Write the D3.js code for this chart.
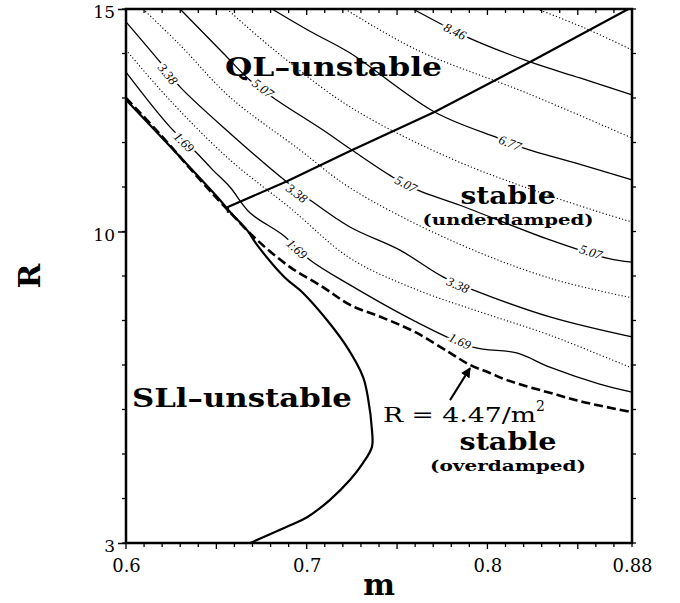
<!DOCTYPE html>
<html>
<head>
<meta charset="utf-8">
<script src="https://cdn.jsdelivr.net/npm/d3@7/dist/d3.min.js"></script>
<style>
  body { margin: 0; background: #fff; }
  svg { display: block; }
</style>
</head>
<body>
<svg id="chart" width="680" height="603"></svg>
<script>
// axis ranges and tick labels
const mDomain = [0.6, 0.88];
const rDomain = [3, 15];
const xTickValues = [0.6, 0.7, 0.8, 0.88];
const xTickLabels = ['0.6', '0.7', '0.8', '0.88'];
const yTickValues = [3, 10, 15];
const yTickLabels = ['3', '10', '15'];

// solid contours (labelled) as [m, R]
const c169 = [[0.600,13.58],[0.6243,12.35],[0.6393,11.76],[0.6481,11.38],[0.6575,11.00],[0.6686,10.42],[0.6868,9.92],[0.7018,9.36],[0.7239,8.80],[0.7587,8.01],[0.7919,7.40],[0.8162,7.27],[0.8345,6.95],[0.8621,6.57],[0.880,6.39]];
const c338 = [[0.600,14.71],[0.6188,13.81],[0.6299,13.25],[0.6575,12.21],[0.6890,11.11],[0.7018,10.71],[0.7239,10.10],[0.7516,9.58],[0.7754,8.98],[0.7920,8.69],[0.8346,8.08],[0.880,7.63]];
const c507 = [[0.6299,15.0],[0.6537,14.01],[0.6686,13.40],[0.6835,12.95],[0.7090,12.28],[0.7250,11.83],[0.7477,11.22],[0.7615,10.93],[0.7848,10.59],[0.8346,9.81],[0.8662,9.40],[0.880,9.31]];
const c677 = [[0.6808,15.0],[0.7018,14.50],[0.7240,14.01],[0.7710,12.68],[0.8059,12.10],[0.8197,11.88],[0.8485,11.54],[0.880,11.16]];
const c846 = [[0.7588,15.0],[0.7754,14.64],[0.7887,14.37],[0.8236,13.81],[0.8512,13.45],[0.880,13.07]];

// dotted intermediate contours
const d254 = [[0.600,14.08],[0.6243,12.95],[0.6575,11.61],[0.6908,10.53],[0.7240,9.40],[0.7610,8.69],[0.7976,8.17],[0.8346,7.67],[0.880,6.93]];
const d423 = [[0.6094,15.0],[0.6299,14.19],[0.6575,13.02],[0.6963,11.83],[0.7240,10.98],[0.7793,9.81],[0.8346,8.95],[0.880,8.51]];
const d592 = [[0.6559,15.0],[0.6808,14.12],[0.7240,12.80],[0.7793,11.65],[0.8346,10.80],[0.880,10.21]];
const d762 = [[0.7212,15.0],[0.7610,14.08],[0.8219,13.11],[0.880,12.10]];
const d930 = [[0.8274,15.0],[0.8540,14.57],[0.880,14.08]];

// boundaries
const sliBoundary = [[0.600,12.96],[0.6504,10.78],[0.6576,10.44],[0.6670,10.03],[0.6725,9.70],[0.6880,8.96],[0.6974,8.64],[0.7112,8.01],[0.7223,7.40],[0.7312,6.73],[0.7339,6.26],[0.7361,5.54],[0.7361,5.16],[0.7312,4.80],[0.7240,4.42],[0.7129,3.97],[0.7002,3.58],[0.6908,3.40],[0.6686,3.0]];
const dampingBoundary = [[0.600,13.00],[0.6188,12.19],[0.6410,11.16],[0.6564,10.48],[0.6725,9.81],[0.6908,9.20],[0.7090,8.75],[0.7240,8.35],[0.7422,8.06],[0.7610,7.72],[0.7793,7.27],[0.7904,7.00],[0.8014,6.82],[0.8108,6.66],[0.8385,6.33],[0.8529,6.17],[0.880,5.94]];
const qlBoundary = [[0.6564,10.42],[0.6564,10.55],[0.6891,11.13],[0.7240,11.81],[0.7710,12.69],[0.8236,13.81],[0.878,15.0]];

// contour labels: text, m, R, path it sits on
const contourLabels = [
  ['3.38', 0.6232, 13.54, c338],
  ['1.69', 0.6321, 12.01, c169],
  ['5.07', 0.6758, 13.22, c507],
  ['3.38', 0.6946, 10.86, c338],
  ['1.69', 0.6946, 9.61, c169],
  ['5.07', 0.7550, 11.07, c507],
  ['6.77', 0.8125, 11.99, c677],
  ['8.46', 0.7821, 14.50, c846],
  ['5.07', 0.8573, 9.54, c507],
  ['3.38', 0.7837, 8.80, c338],
  ['1.69', 0.7848, 7.54, c169]
];

// region annotations: text, m, R (baseline), anchor, size, width
const regionText = [
  ['QL\u2013unstable', 0.6548, 13.49, 'start', 26, 217],
  ['stable', 0.8114, 10.62, 'middle', 25, 95],
  ['(underdamped)', 0.8114, 10.14, 'middle', 15, 171],
  ['SLl\u2013unstable', 0.6033, 6.06, 'start', 26, 220],
  ['stable', 0.8114, 5.09, 'middle', 25, 97],
  ['(overdamped)', 0.8114, 4.62, 'middle', 15, 156]
];
const formulaPos = [0.7422, 5.72];
const arrowFrom = [0.7793, 6.21];
const arrowTo = [0.7904, 6.93];

const svg = d3.select('#chart');
const margin = { top: 9, right: 48, bottom: 60, left: 126 };
const W = 680 - margin.left - margin.right;
const H = 603 - margin.top - margin.bottom;

const x = d3.scaleLinear().domain(mDomain).range([0, W]);
const y = d3.scaleLinear().domain(rDomain).range([H, 0]);

const g = svg.append('g').attr('transform', 'translate(' + margin.left + ',' + margin.top + ')');

svg.append('defs').append('marker')
  .attr('id', 'head')
  .attr('viewBox', '0 0 10 10')
  .attr('refX', 9).attr('refY', 5)
  .attr('markerWidth', 5).attr('markerHeight', 5)
  .attr('orient', 'auto')
  .append('path').attr('d', 'M0,0 L10,5 L0,10 z').attr('fill', '#000');

const line = d3.line()
  .x(function(d) { return x(d[0]); })
  .y(function(d) { return y(d[1]); })
  .curve(d3.curveCatmullRom.alpha(0.5));

const plot = g.append('g');

// dotted contours
[d254, d423, d592, d762, d930].forEach(function(pts) {
  plot.append('path').datum(pts).attr('d', line)
    .attr('fill', 'none').attr('stroke', '#000').attr('stroke-width', 1.1)
    .attr('stroke-dasharray', '1.2,2.2');
});

// solid contours
[c169, c338, c507, c677, c846].forEach(function(pts) {
  plot.append('path').datum(pts).attr('d', line)
    .attr('fill', 'none').attr('stroke', '#000').attr('stroke-width', 1.3);
});

// boundaries
plot.append('path').datum(dampingBoundary).attr('d', line)
  .attr('fill', 'none').attr('stroke', '#000').attr('stroke-width', 2.6)
  .attr('stroke-dasharray', '9,4');
plot.append('path').datum(sliBoundary).attr('d', line)
  .attr('fill', 'none').attr('stroke', '#000').attr('stroke-width', 2.2);
plot.append('path').datum(qlBoundary).attr('d', d3.line().x(function(d) { return x(d[0]); }).y(function(d) { return y(d[1]); }))
  .attr('fill', 'none').attr('stroke', '#000').attr('stroke-width', 2.2);

// contour labels, turned along the local slope of their line
function slopeAt(pts, m) {
  let i = 0;
  while (i < pts.length - 2 && pts[i + 1][0] < m) i++;
  const a = pts[i], b = pts[i + 1];
  return Math.atan2(y(b[1]) - y(a[1]), x(b[0]) - x(a[0])) * 180 / Math.PI;
}
contourLabels.forEach(function(l) {
  const px = x(l[1]), py = y(l[2]);
  const ang = slopeAt(l[3], l[1]);
  plot.append('text')
    .attr('transform', 'translate(' + px + ',' + py + ') rotate(' + ang + ')')
    .attr('text-anchor', 'middle').attr('dy', '0.35em')
    .attr('font-family', 'Liberation Serif, serif').attr('font-size', 13)
    .attr('font-style', 'italic')
    .attr('stroke', '#fff').attr('stroke-width', 5).attr('paint-order', 'stroke')
    .attr('fill', '#000')
    .text(l[0]);
});

// region text
regionText.forEach(function(t) {
  plot.append('text')
    .attr('x', x(t[1])).attr('y', y(t[2]))
    .attr('text-anchor', t[3])
    .attr('font-family', 'DejaVu Serif, serif')
    .attr('font-size', t[4]).attr('font-weight', 'bold')
    .attr('textLength', t[5]).attr('lengthAdjust', 'spacingAndGlyphs')
    .text(t[0]);
});

const ft = plot.append('text')
  .attr('x', x(formulaPos[0])).attr('y', y(formulaPos[1]))
  .attr('font-family', 'DejaVu Serif, serif').attr('font-size', 21);
ft.append('tspan').attr('textLength', 153).attr('lengthAdjust', 'spacingAndGlyphs').text('R = 4.47/m');
ft.append('tspan').attr('dy', -11).attr('font-size', 14).text('2');

plot.append('line')
  .attr('x1', x(arrowFrom[0])).attr('y1', y(arrowFrom[1]))
  .attr('x2', x(arrowTo[0])).attr('y2', y(arrowTo[1]))
  .attr('stroke', '#000').attr('stroke-width', 2)
  .attr('marker-end', 'url(#head)');

// axes
const font = 'DejaVu Serif, serif';
const xAxis = g.append('g').attr('transform', 'translate(0,' + H + ')')
  .call(d3.axisBottom(x).tickValues(xTickValues).tickFormat(function(d, i) { return xTickLabels[i]; }).tickSize(0).tickPadding(16));
const yAxis = g.append('g')
  .call(d3.axisLeft(y).tickValues(yTickValues).tickFormat(function(d, i) { return yTickLabels[i]; }).tickSize(8).tickPadding(3));
[xAxis, yAxis].forEach(function(a) {
  a.select('.domain').remove();
  a.selectAll('text').attr('font-family', font).attr('font-size', 18).attr('fill', '#000');
  a.selectAll('line').attr('stroke', '#000').attr('stroke-width', 1.5);
});
yAxis.selectAll('text').attr('font-size', 17).attr('dy', '0.5em');

// minor ticks
const mTicks = d3.range(60, 89).map(function(v) { return v / 100; });
const rTicks = d3.range(3, 16);
mTicks.forEach(function(m) {
  const big = Math.round(m * 100) % 5 === 0;
  g.append('line').attr('x1', x(m)).attr('x2', x(m)).attr('y1', H).attr('y2', H + (big ? 6 : 4))
    .attr('stroke', '#000').attr('stroke-width', 1.3);
  g.append('line').attr('x1', x(m)).attr('x2', x(m)).attr('y1', 0).attr('y2', big ? 6 : 4)
    .attr('stroke', '#000').attr('stroke-width', 1.3);
});
rTicks.forEach(function(r) {
  g.append('line').attr('x1', 0).attr('x2', -4).attr('y1', y(r)).attr('y2', y(r))
    .attr('stroke', '#000').attr('stroke-width', 1.3);
  g.append('line').attr('x1', W).attr('x2', W + 4).attr('y1', y(r)).attr('y2', y(r))
    .attr('stroke', '#000').attr('stroke-width', 1.3);
});

// frame
g.append('rect').attr('width', W).attr('height', H)
  .attr('fill', 'none').attr('stroke', '#000').attr('stroke-width', 2.5);

// axis titles
svg.append('text')
  .attr('x', margin.left + W / 2).attr('y', 595)
  .attr('text-anchor', 'middle')
  .attr('font-family', font).attr('font-size', 30).attr('font-weight', 'bold')
  .text('m');
svg.append('text')
  .attr('transform', 'translate(40,' + (margin.top + H / 2) + ') rotate(-90)')
  .attr('text-anchor', 'middle')
  .attr('font-family', font).attr('font-size', 30).attr('font-weight', 'bold')
  .text('R');
</script>
</body>
</html>
